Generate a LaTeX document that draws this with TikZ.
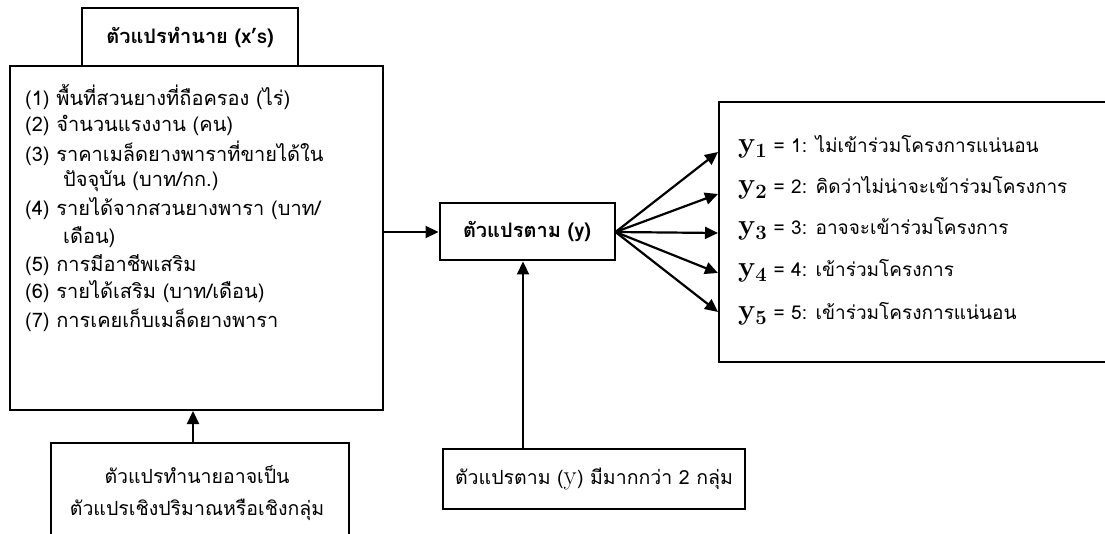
\RequirePackage{fix-cm}
\documentclass[tikz,border=0pt]{standalone}
\usepackage[no-math]{fontspec}
\setmainfont[Script=Thai]{Loma}
\usetikzlibrary{arrows.meta,calc}
\tikzset{
  box/.style={draw, line width=2pt, inner sep=0pt},
  arr/.style={line width=2.2pt, -{Triangle[length=13pt,width=12pt]}},
  txt/.style={anchor=west, inner sep=0pt, font=\fontsize{20}{24}\selectfont},
  rtxt/.style={anchor=west, inner sep=0pt, font=\fontsize{19}{24}\selectfont},
  ctxt/.style={inner sep=0pt, font=\fontsize{20}{24}\selectfont},
  stxt/.style={inner sep=0pt, font=\fontsize{19.5}{23}\selectfont},
}
\newcommand{\ysub}[1]{{\fontsize{29}{31}\selectfont$\mathbf{y}_{\mathbf{#1}}$}}
\begin{document}
\begin{tikzpicture}[x=1pt,y=-1pt]
\useasboundingbox (0,0) rectangle (1105,534);
% header and main box
\node[box, minimum width=216pt, minimum height=58pt] (hdr) at (190,37) {};
\node[ctxt, font=\fontsize{20}{24}\selectfont\bfseries] (hdrt) at (190,37) {ตัวแปรทำนาย (x’s)};
\node[box, fill=white, minimum width=373pt, minimum height=344pt] (main) at (196.5,238) {};
\node[txt] (l1) at (25,97) {(1) พื้นที่สวนยางที่ถือครอง (ไร่)};
\node[txt] (l2) at (25,125) {(2) จำนวนแรงงาน (คน)};
\node[txt] (l3) at (25,153) {(3) ราคาเมล็ดยางพาราที่ขายได้ใน};
\node[txt] (l3b) at (63,181) {ปัจจุบัน (บาท/กก.)};
\node[txt] (l4) at (25,209) {(4) รายได้จากสวนยางพารา (บาท/};
\node[txt] (l4b) at (63,237) {เดือน)};
\node[txt] (l5) at (25,265) {(5) การมีอาชีพเสริม};
\node[txt] (l6) at (25,292) {(6) รายได้เสริม (บาท/เดือน)};
\node[txt] (l7) at (25,320) {(7) การเคยเก็บเมล็ดยางพารา};
% dependent variable box
\node[box, minimum width=175pt, minimum height=57pt] (ybox) at (527,232) {};
\node[ctxt, font=\fontsize{20}{24}\selectfont\bfseries] (yboxt) at (527,232) {ตัวแปรตาม (y)};
% right box
\node[box, minimum width=400pt, minimum height=260pt, anchor=north west] (rb) at (718,101) {};
\node[rtxt] (r1) at (738,147) {\ysub{1} = 1: ไม่เข้าร่วมโครงการแน่นอน};
\node[rtxt] (r2) at (738,188) {\ysub{2} = 2: คิดว่าไม่น่าจะเข้าร่วมโครงการ};
\node[rtxt] (r3) at (738,229) {\ysub{3} = 3: อาจจะเข้าร่วมโครงการ};
\node[rtxt] (r4) at (738,271) {\ysub{4} = 4: เข้าร่วมโครงการ};
\node[rtxt] (r5) at (738,314) {\ysub{5} = 5: เข้าร่วมโครงการแน่นอน};
\coordinate (t1) at (718,152);
\coordinate (t2) at (718,194);
\coordinate (t3) at (718,233);
\coordinate (t4) at (718,273);
\coordinate (t5) at (718,312);
% bottom boxes
\node[box, minimum width=302pt, minimum height=60pt] (ncbox) at (594,479) {};
\node[stxt] (ncboxt) at (594,479) {ตัวแปรตาม ({\fontsize{27}{29}\selectfont$\mathrm{y}$}) มีมากกว่า 2 กลุ่ม};
\node[box, minimum width=298pt, minimum height=110pt, anchor=north west] (pbox) at (50,442) {};
\node[stxt] (pt1) at (197,475) {ตัวแปรทำนายอาจเป็น};
\node[stxt] (pt2) at (197,510) {ตัวแปรเชิงปริมาณหรือเชิงกลุ่ม};
% connectors
\draw[arr] (main.east |- ybox.west) -- (ybox.west);
\foreach \i in {1,...,5} { \draw[arr] (ybox.east) -- (t\i); }
\draw[arr] (ncbox.north -| 523,0) -- (ybox.south -| 523,0);
\draw[arr] (pbox.north -| 193,0) -- (main.south -| 193,0);
\end{tikzpicture}
\end{document}
